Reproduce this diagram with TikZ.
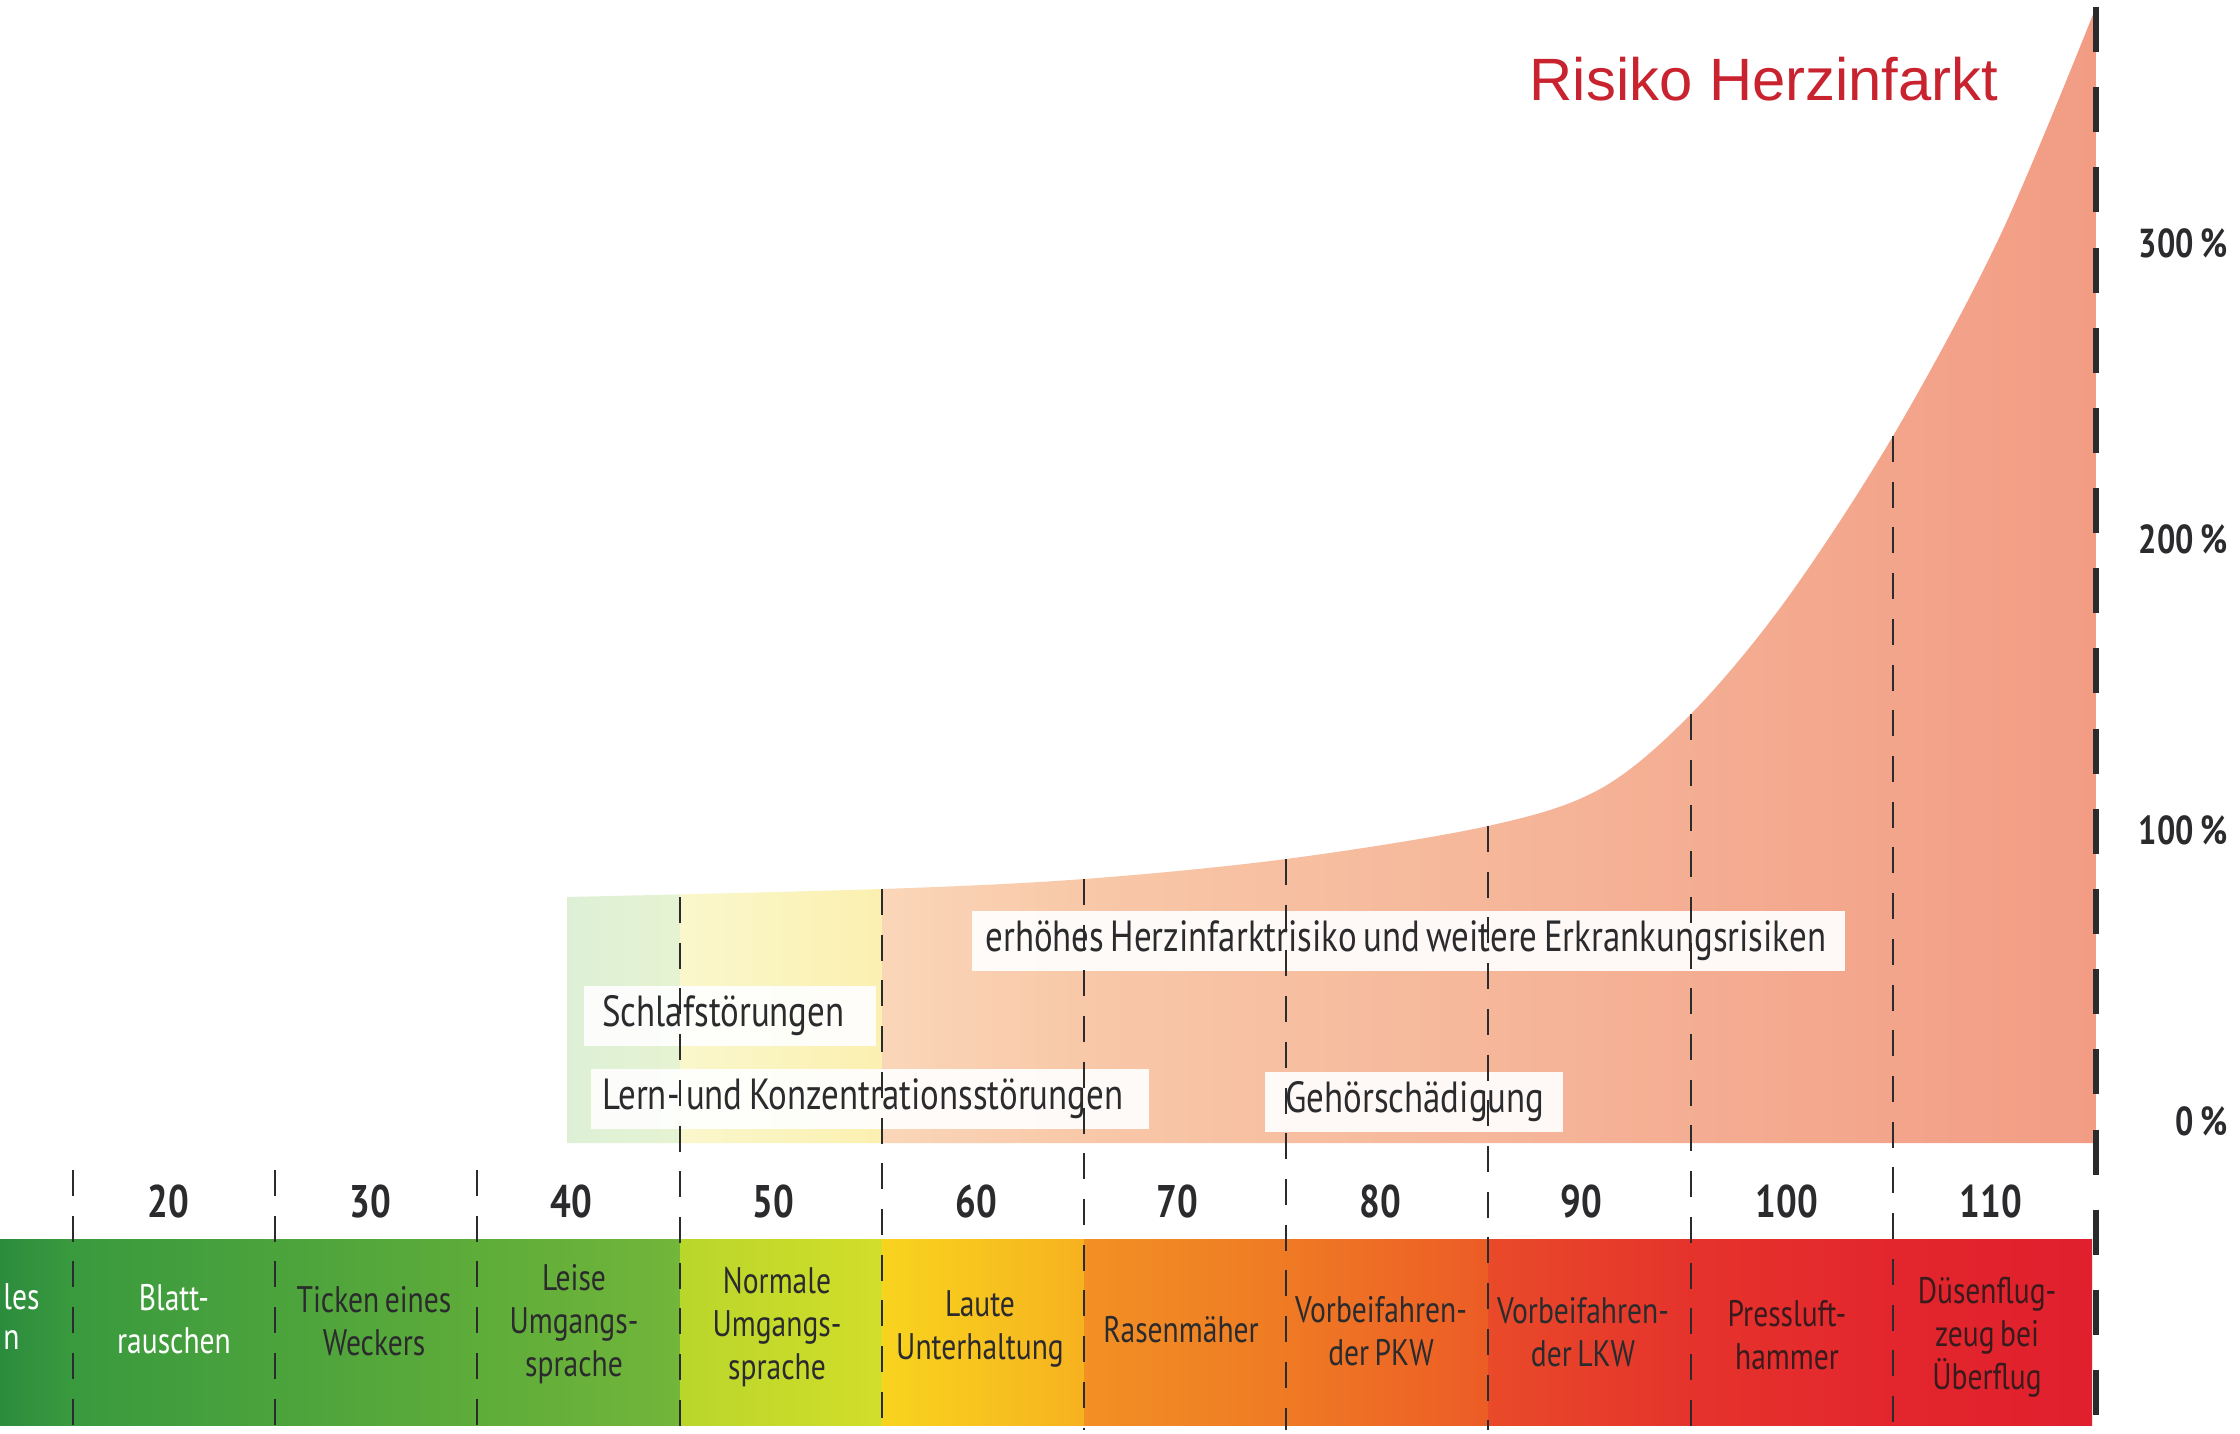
\documentclass[tikz,border=0pt]{standalone}
\usepackage{fontspec}
\setmainfont{Liberation Sans}
\newfontfamily\condfont[FakeStretch=0.8, WordSpace=0.7]{PT Sans}

\definecolor{titlered}{HTML}{C8232F}
\definecolor{inkgrey}{HTML}{2B2B2E}
\definecolor{inkred}{HTML}{3A1A1C}
% band colours, left/right of each column
\definecolor{bandA}{HTML}{2C8C3E}\definecolor{bandB}{HTML}{399A3E}
\definecolor{bandC}{HTML}{4BA33C}\definecolor{bandD}{HTML}{5EAC3A}
\definecolor{bandE}{HTML}{72B63A}\definecolor{bandF}{HTML}{B9D62B}
\definecolor{bandG}{HTML}{D2DE2A}\definecolor{bandH}{HTML}{F8D41E}
\definecolor{bandI}{HTML}{F7B21F}\definecolor{bandJ}{HTML}{F29024}
\definecolor{bandK}{HTML}{EF7A24}\definecolor{bandL}{HTML}{EC5C26}
\definecolor{bandM}{HTML}{E94A29}\definecolor{bandN}{HTML}{E5332C}
\definecolor{bandO}{HTML}{E3262D}\definecolor{bandP}{HTML}{E0202D}
% risk area colours
\definecolor{areaA}{HTML}{DDF0D6}\definecolor{areaB}{HTML}{E6F3D2}
\definecolor{areaC}{HTML}{FAF7CC}\definecolor{areaD}{HTML}{FBF0B0}
\definecolor{areaE}{HTML}{FAD6B8}\definecolor{areaF}{HTML}{F8C8A8}
\definecolor{areaG}{HTML}{F29C84}

\tikzset{%
  >=latex,
  grid/.style={inkgrey, line width=0.7pt, dash pattern=on 7.4pt off 5.6pt},
  edgegrid/.style={inkgrey, line width=1.7pt, dash pattern=on 12.8pt off 10pt},
  levellabel/.style={font=\condfont\bfseries\fontsize{13}{15}\selectfont, text=inkgrey},
  pctlabel/.style={font=\condfont\bfseries\fontsize{11.5}{13}\selectfont, text=inkgrey,
    anchor=east, inner sep=0pt},
  sourcelabel/.style={font=\condfont\fontsize{10.5}{12.2}\selectfont, align=center, text=inkgrey},
  effectbox/.style={fill=white, fill opacity=0.92, anchor=west, minimum height=0.6cm, inner sep=0pt},
  effecttext/.style={anchor=west, inner sep=0pt, text=inkgrey,
    font=\condfont\fontsize{12.4}{14}\selectfont}
}

\begin{document}
\begin{tikzpicture}[x=0.01cm, y=-0.01cm, thick]
     \fill[white] (0,0) rectangle (2240,1434);
     \useasboundingbox (0,0) rectangle (2240,1434);

     \begin{scope}
       \clip (567,1143) -- plot[smooth, tension=0.55] coordinates {(567,897) (882,889) (1084,879)
         (1286,859) (1488,826) (1600,789) (1691,714) (1786,600) (1893,436)
         (2000,236) (2096,7)} -- (2096,1143) -- cycle;
       \foreach \xa/\xb/\ca/\cb in {567/680/areaA/areaB, 680/882/areaC/areaD,
           882/1084/areaE/areaF, 1084/2096/areaF/areaG}
         \shade[left color=\ca, right color=\cb] (\xa,0) rectangle (\xb,1143);
     \end{scope}

     \foreach \xa/\xb/\ca/\cb in {0/73/bandA/bandB, 73/275/bandB/bandC, 275/477/bandC/bandD,
         477/680/bandD/bandE, 680/882/bandF/bandG, 882/1084/bandH/bandI,
         1084/1286/bandJ/bandK, 1286/1488/bandK/bandL, 1488/1691/bandM/bandN,
         1691/1893/bandN/bandO, 1893/2092/bandO/bandP}
       \shade[left color=\ca, right color=\cb] (\xa,1239) rectangle (\xb,1425);

     \node[font=\fontsize{17}{20}\selectfont, text=titlered] (title) at (1764,79) {Risiko Herzinfarkt};

     \foreach \n/\x/\y/\w/\s/\l in {risk/971/941/8.72/0.13/{erhöhes Herzinfarktrisiko und weitere Erkrankungsrisiken},
         sleep/583/1016/2.91/0.18/{Schlafstörungen},
         focus/590/1099/5.57/0.11/{Lern- und Konzentrationsstörungen},
         hearing/1264/1102/2.97/0.2/{Gehörschädigung}} {
       \node[effectbox, minimum width=\w cm] (\n) at (\x,\y) {};
       \node[effecttext] (\n text) at ([xshift=\s cm]\n.west) {\l};
     }

     \foreach \x/\l in {168/20, 370/30, 571/40, 773/50, 976/60, 1177/70, 1380/80, 1581/90, 1787/100, 1991/110}
       \node[levellabel] (lvl\l) at (\x,1201) {\l};

     \foreach \y/\l in {243/300, 539/200, 830/100, 1121/0}
       \node[pctlabel] (pct\l) at (2229,\y) {\l\,\%};

     \node[sourcelabel, text=white, anchor=west, inner sep=0pt] (srcA) at (2,1297) {les};
     \node[sourcelabel, text=white, anchor=west, inner sep=0pt] (srcB) at (2,1340) {n};
     \node[sourcelabel, text=white] (src20) at (174,1319) {Blatt-\\rauschen};
     \foreach \x/\y/\n/\l in {374/1321/30/{Ticken eines\\Weckers},
         574/1324/40/{Leise\\Umgangs-\\sprache},
         777/1327/50/{Normale\\Umgangs-\\sprache},
         980/1329/60/{Laute\\Unterhaltung},
         1181/1330/70/{Rasenmäher},
         1381/1331/80/{Vorbeifahren-\\der PKW},
         1583/1332/90/{Vorbeifahren-\\der LKW}}
       \node[sourcelabel] (src\n) at (\x,\y) {\l};
     \node[sourcelabel, text=inkred] (src100) at (1787,1335) {Pressluft-\\hammer};
     \node[sourcelabel, text=inkred] (src110) at (1987,1337) {Düsenflug-\\zeug bei\\Überflug};

     \foreach \x/\t in {73/1170, 275/1170, 477/1170, 680/897, 882/889, 1084/879,
         1286/859, 1488/826, 1691/714, 1893/436}
       \draw[grid] (\x,\t) -- (\x,1430);
     \draw[edgegrid] (2096,7) -- (2096,1430);

\end{tikzpicture}
\end{document}
